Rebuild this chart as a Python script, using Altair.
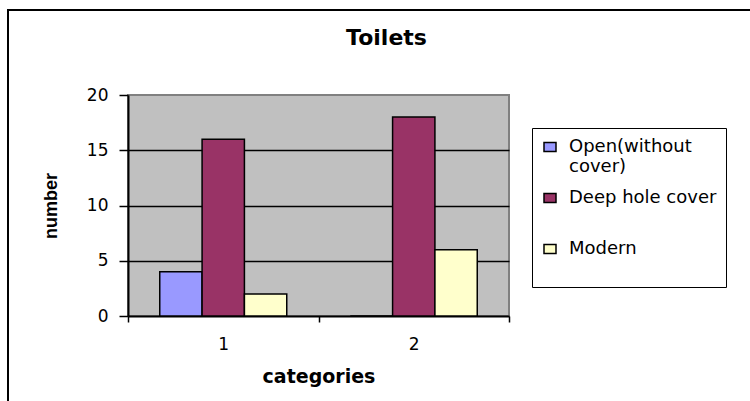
import altair as alt
import pandas as pd

categories = ["1", "2"]
series = ["Open(without cover)", "Deep hole cover", "Modern"]
open_vals = [4, 0]
deep_vals = [16, 18]
modern_vals = [2, 6]
colors = ["#9999FF", "#993366", "#FFFFCC"]
y_ticks = [0, 5, 10, 15, 20]

rows = []
for s, vals in zip(series, [open_vals, deep_vals, modern_vals]):
    for c, v in zip(categories, vals):
        rows.append({"category": c, "series": s, "value": v})
df = pd.DataFrame(rows)

W, H = 381, 221
PL, PT = 128, 95

label_expr = ("datum.label == 'Open(without cover)' ? ['Open(without', 'cover)'] "
              ": [datum.label, '']")

bars = alt.Chart(df).mark_bar(stroke="black", strokeWidth=1.5).encode(
    x=alt.X("category:N", sort=categories,
            scale=alt.Scale(paddingInner=0, paddingOuter=0),
            axis=alt.Axis(title="categories", labelAngle=0, tickBand="extent",
                          tickSize=6, tickColor="black", tickWidth=1.5,
                          domainColor="black", domainWidth=2,
                          labelFont="DejaVu Sans", labelFontSize=17, labelColor="black",
                          labelPadding=14,
                          titleFont="DejaVu Sans", titleFontSize=19, titleFontWeight="bold",
                          titleColor="black", titleX=W / 2, titleY=60,
                          titleBaseline="middle", titleAlign="center")),
    xOffset=alt.XOffset("series:N", sort=series,
                        scale=alt.Scale(paddingInner=0, paddingOuter=0.75)),
    y=alt.Y("value:Q", scale=alt.Scale(domain=[0, 20], nice=False),
            axis=alt.Axis(values=y_ticks, title="number",
                          tickSize=9, tickColor="black", tickWidth=1.5,
                          domainColor="black", domainWidth=2,
                          gridColor={"condition": {"test": "datum.value == 20 || datum.value == 0",
                                                   "value": "transparent"},
                                     "value": "black"},
                          gridWidth=1.5,
                          labelFont="DejaVu Sans", labelFontSize=17, labelColor="black",
                          labelPadding=11,
                          titleFont="Liberation Sans", titleFontSize=18, titleFontWeight="bold",
                          titleColor="black", titleX=-77, titleY=H / 2, titleAngle=270,
                          titleBaseline="middle", titleAlign="center")),
    color=alt.Color("series:N", sort=series,
                    scale=alt.Scale(domain=series, range=colors),
                    legend=alt.Legend(title=None, orient="none", legendX=404, legendY=33,
                                      padding=9, strokeColor="black", fillColor="white",
                                      labelFont="DejaVu Sans", labelFontSize=18,
                                      labelColor="black", labelLimit=400, labelOffset=9,
                                      labelExpr=label_expr,
                                      symbolType="M-0.667,-0.5H0.667V0.5H-0.667Z",
                                      symbolSize=324, symbolStrokeColor="black",
                                      symbolStrokeWidth=1.5, symbolOpacity=1,
                                      symbolOffset=-1, rowPadding=12)),
)

frame = alt.Chart(alt.Data(values=[{}])).mark_rect(
    fill="transparent", stroke="black", strokeWidth=2
).encode(
    x=alt.value(-120), x2=alt.value(640), y=alt.value(-85), y2=alt.value(330)
)

chart = alt.layer(frame, bars).properties(
    width=W, height=H,
    autosize=alt.AutoSizeParams(type="none"),
    padding={"left": PL, "top": PT, "right": 750 - PL - W, "bottom": 401 - PT - H},
    title=alt.Title("Toilets", font="DejaVu Sans", fontSize=22, fontWeight="bold",
                    color="black", anchor="middle", dx=68, offset=-41),
).configure_view(fill="#C0C0C0", stroke="#808080", strokeWidth=2)

chart.save("out.html", embed_options={"renderer": "svg", "actions": False})
